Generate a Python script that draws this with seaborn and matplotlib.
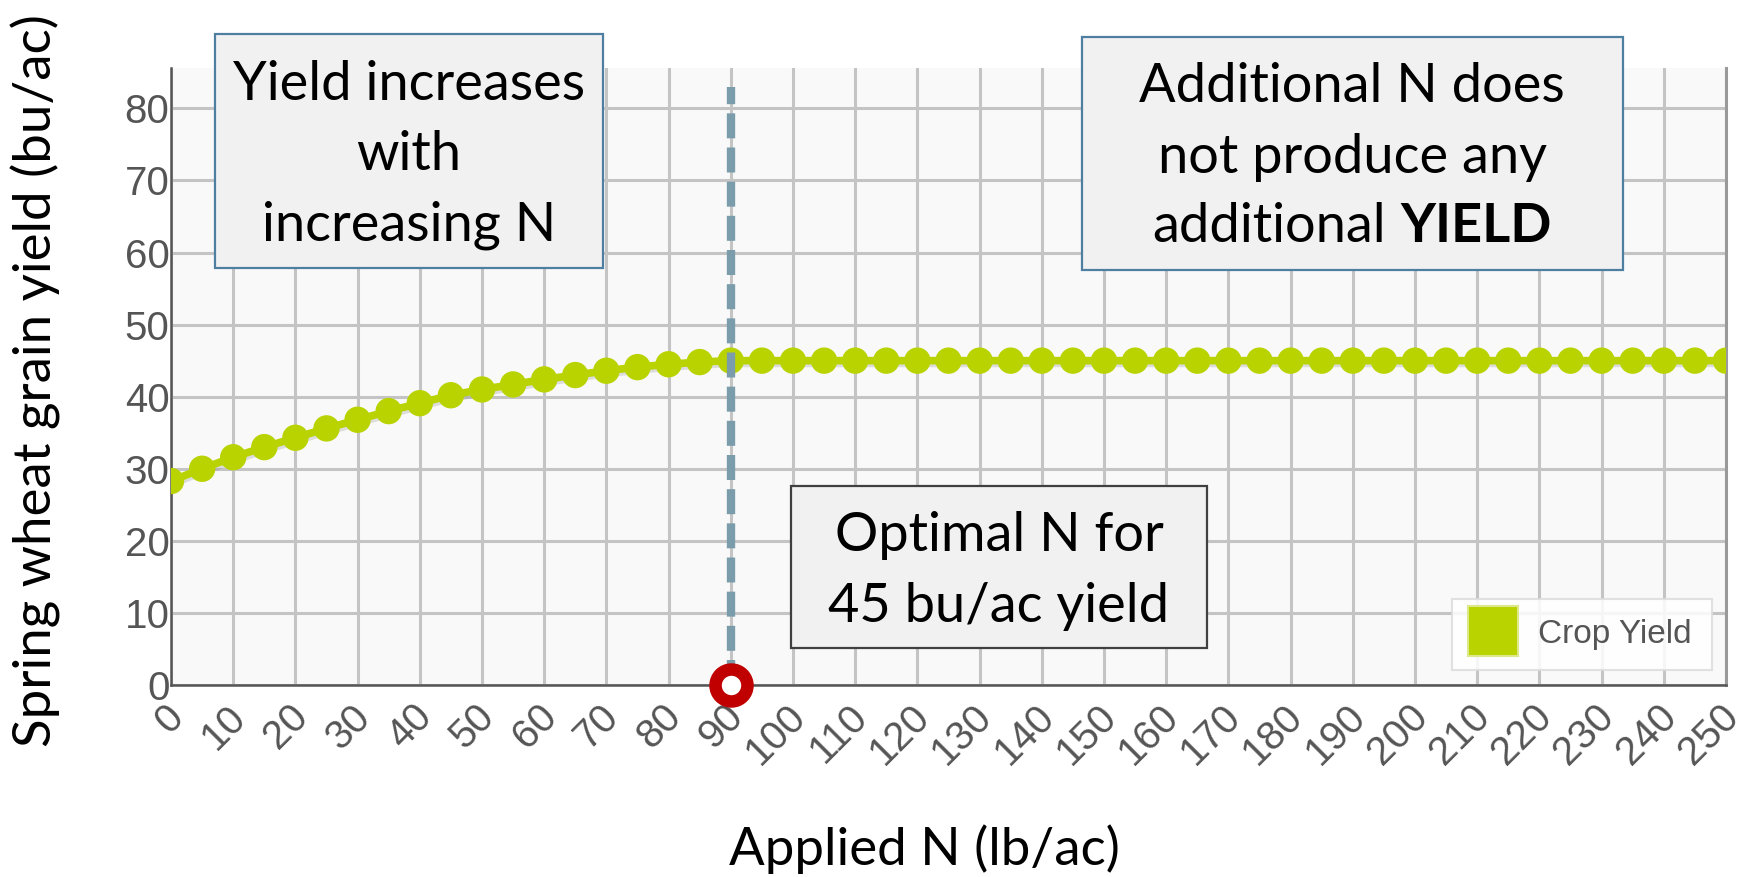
import matplotlib
matplotlib.use("Agg")
import matplotlib.pyplot as plt
import matplotlib.patheffects as pe
from matplotlib.lines import Line2D
from matplotlib.patches import Rectangle
from matplotlib.transforms import ScaledTranslation
import pandas as pd
import seaborn as sns

# ---- data -------------------------------------------------------------
applied_n = [0, 5, 10, 15, 20, 25, 30, 35, 40, 45, 50, 55, 60, 65, 70, 75, 80, 85,
             90, 95, 100, 105, 110, 115, 120, 125, 130, 135, 140, 145, 150, 155,
             160, 165, 170, 175, 180, 185, 190, 195, 200, 205, 210, 215, 220, 225,
             230, 235, 240, 245, 250]
crop_yield = [28.3, 30.0, 31.6, 33.0, 34.3, 35.6, 36.8, 38.0, 39.1, 40.2, 41.0,
              41.7, 42.4, 43.0, 43.6, 44.1, 44.5, 44.8,
              45.0, 45.0, 45.0, 45.0, 45.0, 45.0, 45.0, 45.0, 45.0, 45.0, 45.0,
              45.0, 45.0, 45.0, 45.0, 45.0, 45.0, 45.0, 45.0, 45.0, 45.0, 45.0,
              45.0, 45.0, 45.0, 45.0, 45.0, 45.0, 45.0, 45.0, 45.0, 45.0, 45.0]
x_ticks = [0, 10, 20, 30, 40, 50, 60, 70, 80, 90, 100, 110, 120, 130, 140, 150,
           160, 170, 180, 190, 200, 210, 220, 230, 240, 250]
y_ticks = [0, 10, 20, 30, 40, 50, 60, 70, 80]
optimal_n = 90
optimal_line_top = 83

series_name = "Crop Yield"
x_title = "Applied N (lb/ac)"
y_title = "Spring wheat grain yield (bu/ac)"
left_note = ["Yield increases", "with", "increasing N"]
right_note = ["Additional N does", "not produce any", "additional "]
right_note_bold = "YIELD"
optimal_note = ["Optimal N for", "45 bu/ac yield"]

# ---- style ------------------------------------------------------------
GREEN = "#b9d300"
GRID = "#c4c4c4"
TICK_GREY = "#555555"
BOX_FILL = "#f1f1f1"
NOTE_FONT = ["Lato", "DejaVu Sans"]
TICK_FONT = ["Liberation Sans", "DejaVu Sans"]
NOTE_SIZE = 39

sns.set_style("white")
plt.rcParams["font.family"] = NOTE_FONT

W, H = 1758, 877
fig = plt.figure(figsize=(W / 100, H / 100), dpi=100)
fig.patch.set_facecolor("white")


def fx(px):
    return px / W


def fy(py):
    return 1 - py / H


ax = fig.add_axes([fx(171), fy(685), fx(1726) - fx(171), fy(68) - fy(685)])
ax.set_facecolor("#f9f9f9")

df = pd.DataFrame({"n": applied_n, "yield": crop_yield})
sns.lineplot(data=df, x="n", y="yield", ax=ax, color=GREEN, lw=5.5,
             marker="o", markersize=19, markeredgewidth=0, zorder=4,
             legend=False,
             path_effects=[pe.SimpleLineShadow(offset=(1, -2), shadow_color="#888888",
                                               alpha=0.25), pe.Normal()])

ax.set_xlim(0, 250)
ax.set_ylim(0, 85.6)
ax.set_xticks(x_ticks)
ax.set_yticks(y_ticks)
ax.set_xticklabels([str(v) for v in x_ticks])
ax.set_yticklabels([str(v) for v in y_ticks])
ax.grid(True, color=GRID, lw=2.2, zorder=0)
ax.set_axisbelow(True)
ax.tick_params(axis="both", length=0, labelsize=29, labelcolor=TICK_GREY)
ax.tick_params(axis="y", pad=1)
ax.tick_params(axis="x", pad=9)
for lab in ax.get_yticklabels() + ax.get_xticklabels():
    lab.set_fontfamily(TICK_FONT)
shift = ScaledTranslation(20 / 100, 0, fig.dpi_scale_trans)
for lab in ax.get_xticklabels():
    lab.set_rotation(45)
    lab.set_ha("right")
    lab.set_va("top")
    lab.set_transform(lab.get_transform() + shift)

for side in ["left", "bottom"]:
    ax.spines[side].set_color("#555555")
    ax.spines[side].set_linewidth(1.8)
ax.spines["right"].set_color("#9a9a9a")
ax.spines["right"].set_linewidth(2.2)
ax.spines["top"].set_visible(False)
ax.set_xlabel("")
ax.set_ylabel("")

# optimal-N marker line and ring
ax.plot([optimal_n, optimal_n], [0, optimal_line_top], color="#7b9dab", lw=6,
        dashes=(3, 1.1), zorder=5, solid_capstyle="butt", dash_capstyle="butt")
ax.plot([optimal_n], [0], marker="o", markersize=23, markerfacecolor="white",
        markeredgecolor="#c00000", markeredgewidth=9, zorder=6, clip_on=False)

# legend
handle = Line2D([], [], ls="none", marker="s", markersize=36, color=GREEN,
                markeredgecolor="#dde88a", markeredgewidth=1.5)
leg = ax.legend([handle], [series_name], loc="lower right",
                bbox_to_anchor=((1712 - 171) / 1555, (685 - 670) / 617),
                prop={"family": TICK_FONT, "size": 24}, labelcolor=TICK_GREY,
                frameon=True, fancybox=False, borderpad=0.6, handlelength=1.3,
                handletextpad=0.7, borderaxespad=0)
leg.get_frame().set_edgecolor("#dcdcdc")
leg.get_frame().set_facecolor("white")
leg.get_frame().set_alpha(0.85)
leg.get_frame().set_linewidth(1.5)
leg.set_zorder(7)

# axis titles
fig.text(fx(36), fy(381), y_title, rotation=90, ha="center", va="center",
         fontsize=38, color="black")
fig.text(fx(924), fy(849), x_title, ha="center", va="center",
         fontsize=38, color="black")


# annotation boxes
def note_box(x0, y0, x1, y1, edge):
    fig.patches.append(Rectangle((fx(x0), fy(y1)), fx(x1) - fx(x0), fy(y0) - fy(y1),
                                 transform=fig.transFigure, facecolor=BOX_FILL,
                                 edgecolor=edge, lw=1.6, zorder=10))


def note_lines(cx, baselines, lines):
    for y, txt in zip(baselines, lines):
        fig.text(fx(cx), fy(y), txt, ha="center", va="baseline",
                 fontsize=NOTE_SIZE, color="black", zorder=11)


note_box(215, 34, 603, 268, "#4f7fa0")
note_lines(409, [100, 170, 240], left_note)

note_box(1082, 37, 1623, 270, "#4f7fa0")
note_lines(1352, [102, 173], right_note[:2])

note_box(791, 486, 1207, 648, "#404040")
note_lines(999, [551, 622], optimal_note)

# last line of the right note mixes regular and bold text
renderer = fig.canvas.get_renderer()
t_reg = fig.text(0, fy(242), right_note[2].strip(), ha="left", va="baseline",
                 fontsize=NOTE_SIZE, color="black", zorder=11)
t_bold = fig.text(0, fy(242), right_note_bold, ha="left", va="baseline",
                  fontsize=NOTE_SIZE, fontweight="bold", color="black", zorder=11)
t_sp = fig.text(0, 0, "a a", fontsize=NOTE_SIZE)
t_aa = fig.text(0, 0, "aa", fontsize=NOTE_SIZE)
space_w = (t_sp.get_window_extent(renderer).width
           - t_aa.get_window_extent(renderer).width)
t_sp.remove()
t_aa.remove()
w_reg = t_reg.get_window_extent(renderer).width
w_bold = t_bold.get_window_extent(renderer).width
total = w_reg + space_w + w_bold
start = 1352 - total / 2
t_reg.set_x(fx(start))
t_bold.set_x(fx(start + w_reg + space_w))

fig.savefig("out.png", dpi=100, facecolor="white")
